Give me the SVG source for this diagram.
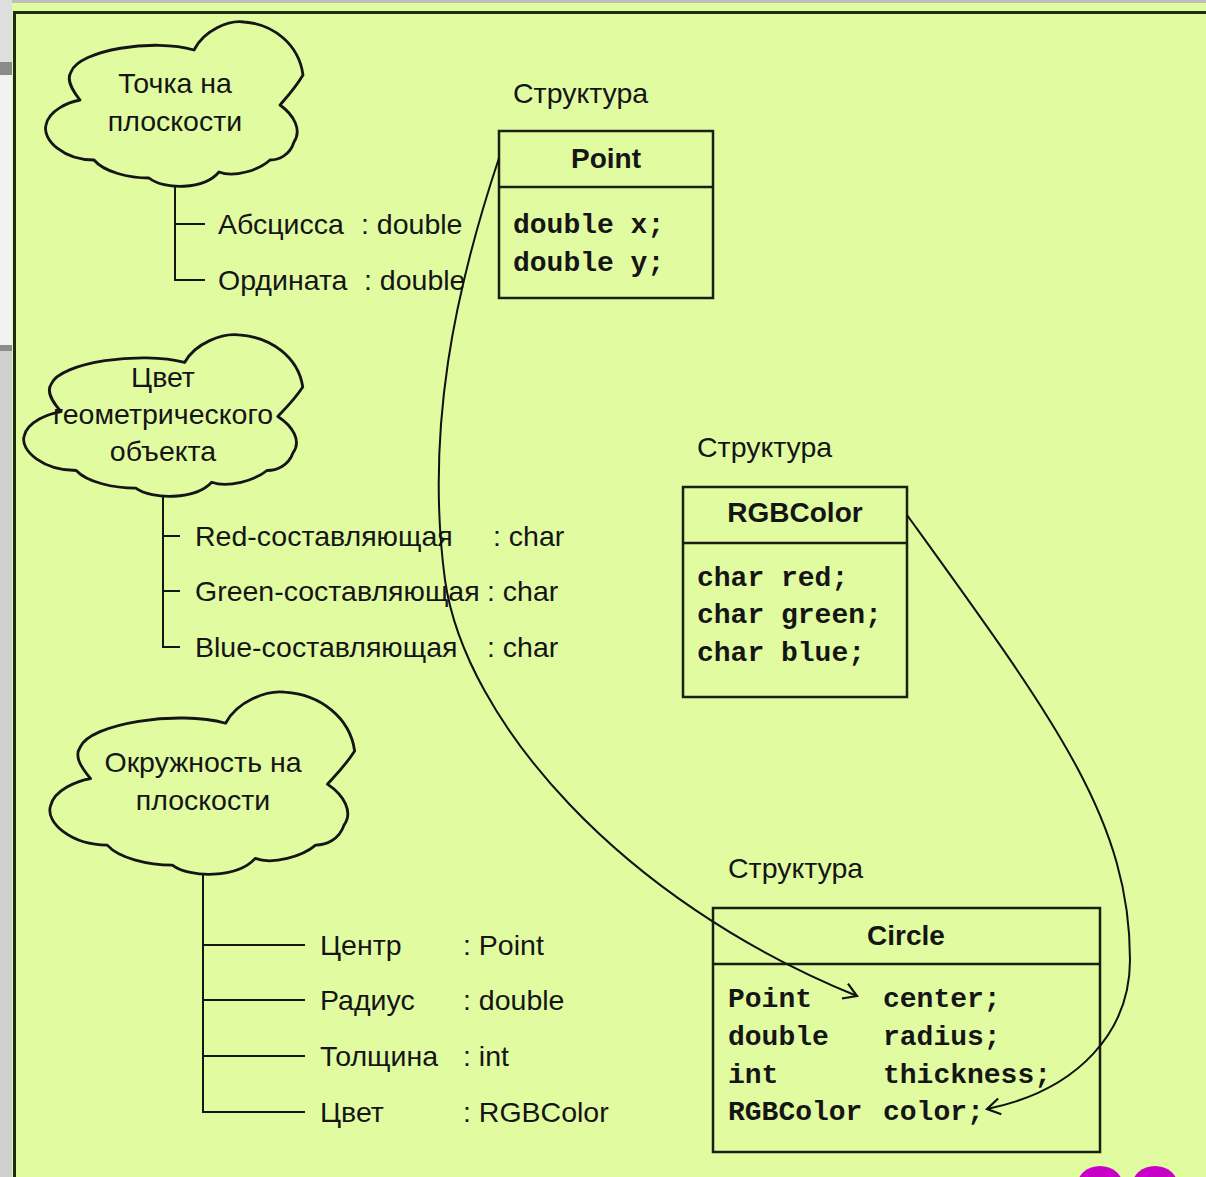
<svg xmlns="http://www.w3.org/2000/svg" width="1206" height="1177" viewBox="0 0 1206 1177">
<defs>
<style>
.t{font-family:"Liberation Sans",Arial,sans-serif;font-size:28.5px;fill:#151515}
.mid{text-anchor:middle}
.tb{font-family:"Liberation Sans",Arial,sans-serif;font-size:28px;font-weight:bold;fill:#151515;text-anchor:middle}
.m{font-family:"Liberation Mono","Courier New",monospace;font-size:28px;font-weight:bold;fill:#151515}
.cl{fill:none;stroke:#151515;stroke-width:2.8;stroke-linejoin:round;vector-effect:non-scaling-stroke}
.ln{stroke:#151515;stroke-width:2;fill:none}
.box{fill:none;stroke:#1a1f12;stroke-width:2.5}
.cn{fill:none;stroke:#111;stroke-width:2}
</style>
<path id="cloud" class="cl" d="M 36 80 C 28 70, 22 60, 27 52 C 35 30, 110 18, 150 30 C 160 10, 185 0, 200 2 C 230 4, 255 25, 259 55 C 250 70, 240 80, 236 85 C 250 95, 258 110, 250 122 C 246 135, 235 140, 226 140 C 215 150, 190 158, 175 152 C 160 170, 120 170, 105 158 C 85 158, 60 152, 50 140 C 20 140, -2 120, 2 105 C 5 90, 25 82, 36 80 Z"/>
<marker id="ah" viewBox="-15 -10 17 20" markerWidth="17" markerHeight="20" refX="0" refY="0" orient="auto" markerUnits="userSpaceOnUse">
<path d="M -13 -8 L 0 0 L -13 8" fill="none" stroke="#111" stroke-width="2.2"/>
</marker>
</defs>

<g id="background">
<rect x="0" y="0" width="1206" height="1177" fill="#e1fba1"/>
<rect x="0" y="0" width="1206" height="3" fill="#bdbdbd"/>
<rect x="0" y="0" width="12" height="62" fill="#dedede"/>
<rect x="0" y="62" width="12" height="13" fill="#8a8a8a"/>
<rect x="0" y="75" width="12" height="270" fill="#f2f2f2"/>
<rect x="0" y="345" width="12" height="6" fill="#8c8c8c"/>
<rect x="0" y="351" width="12" height="826" fill="#cfcfcf"/>
<line x1="14.5" y1="12.5" x2="1206" y2="12.5" stroke="#1e2a14" stroke-width="3"/>
<line x1="14.5" y1="11" x2="14.5" y2="1177" stroke="#1e2a14" stroke-width="3"/>
<ellipse cx="1100" cy="1186" rx="23" ry="20" fill="#c800c8"/>
<ellipse cx="1155" cy="1186" rx="23" ry="20" fill="#c800c8"/>
</g>

<g id="cloud-point">
<use href="#cloud" transform="translate(44,20)"/>
<text class="t mid" x="175" y="93">Точка на</text>
<text class="t mid" x="175" y="131">плоскости</text>
<path class="ln" d="M 175 186 V 280 H 205 M 175 224 H 205"/>
<text class="t" x="218" y="234">Абсцисса</text>
<text class="t" x="361" y="234">: double</text>
<text class="t" x="218" y="290">Ордината</text>
<text class="t" x="364" y="290">: double</text>
</g>

<g id="cloud-color">
<use href="#cloud" transform="translate(22,333) scale(1.084,0.982)"/>
<text class="t mid" x="163" y="387">Цвет</text>
<text class="t mid" x="163" y="424">геометрического</text>
<text class="t mid" x="163" y="461">объекта</text>
<path class="ln" d="M 163 496 V 647 H 180 M 163 536 H 180 M 163 591 H 180"/>
<text class="t" x="195" y="546">Red-составляющая</text>
<text class="t" x="493" y="546">: char</text>
<text class="t" x="195" y="601">Green-составляющая</text>
<text class="t" x="487" y="601">: char</text>
<text class="t" x="195" y="657">Blue-составляющая</text>
<text class="t" x="487" y="657">: char</text>
</g>

<g id="cloud-circle">
<use href="#cloud" transform="translate(48,690) scale(1.184,1.108)"/>
<text class="t mid" x="203" y="772">Окружность на</text>
<text class="t mid" x="203" y="810">плоскости</text>
<path class="ln" d="M 203 874 V 1112 H 305 M 203 945 H 305 M 203 1000 H 305 M 203 1056 H 305"/>
<text class="t" x="320" y="955">Центр</text>
<text class="t" x="463" y="955">: Point</text>
<text class="t" x="320" y="1010">Радиус</text>
<text class="t" x="463" y="1010">: double</text>
<text class="t" x="320" y="1066">Толщина</text>
<text class="t" x="463" y="1066">: int</text>
<text class="t" x="320" y="1122">Цвет</text>
<text class="t" x="463" y="1122">: RGBColor</text>
</g>

<g id="struct-point">
<text class="t" x="513" y="103">Структура</text>
<rect class="box" x="499" y="131" width="214" height="167"/>
<line class="box" x1="499" y1="187" x2="713" y2="187"/>
<text class="tb" x="606" y="168">Point</text>
<text class="m" x="513" y="233">double x;</text>
<text class="m" x="513" y="271">double y;</text>
</g>

<g id="struct-rgbcolor">
<text class="t" x="697" y="457">Структура</text>
<rect class="box" x="683" y="487" width="224" height="210"/>
<line class="box" x1="683" y1="543" x2="907" y2="543"/>
<text class="tb" x="795" y="522">RGBColor</text>
<text class="m" x="697" y="586">char red;</text>
<text class="m" x="697" y="623">char green;</text>
<text class="m" x="697" y="661">char blue;</text>
</g>

<g id="struct-circle">
<text class="t" x="728" y="878">Структура</text>
<rect class="box" x="713" y="908" width="387" height="244"/>
<line class="box" x1="713" y1="964" x2="1100" y2="964"/>
<text class="tb" x="906" y="945">Circle</text>
<text class="m" x="728" y="1007">Point</text>
<text class="m" x="883" y="1007">center;</text>
<text class="m" x="728" y="1045">double</text>
<text class="m" x="883" y="1045">radius;</text>
<text class="m" x="728" y="1083">int</text>
<text class="m" x="883" y="1083">thickness;</text>
<text class="m" x="728" y="1120">RGBColor</text>
<text class="m" x="883" y="1120">color;</text>
</g>

<g id="connectors">
<path class="cn" d="M 499 158 C 455 290, 425 430, 445 580 C 465 720, 620 900, 857 996" marker-end="url(#ah)"/>
<path class="cn" d="M 907 515 C 1055 720, 1130 820, 1130 960 C 1130 1030, 1080 1090, 987 1109" marker-end="url(#ah)"/>
</g>
</svg>
